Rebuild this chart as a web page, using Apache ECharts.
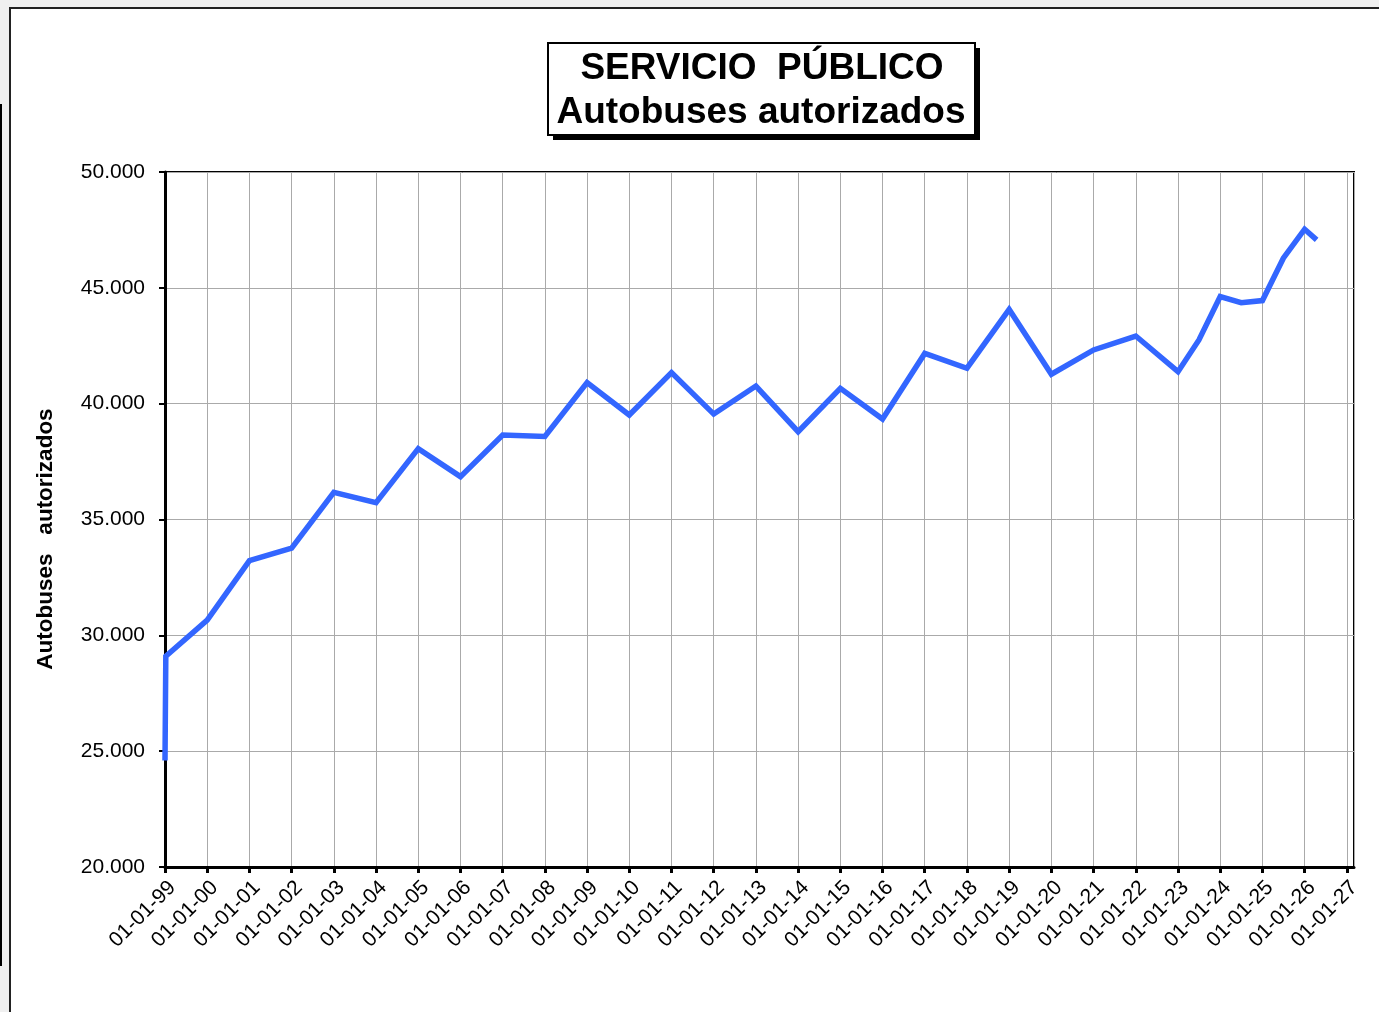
<!DOCTYPE html>
<html>
<head>
<meta charset="utf-8">
<title>Servicio público - Autobuses autorizados</title>
<script src="https://cdn.jsdelivr.net/npm/echarts@6/dist/echarts.min.js"></script>
<style>
  html, body { margin: 0; padding: 0; background: #f0f0f0; overflow: hidden; }
  #frame {
    position: absolute; left: 9px; top: 7px; width: 1400px; height: 1100px;
    border-left: 2px solid #222; border-top: 2px solid #222; background: #fff;
  }
  #mark { position: absolute; left: 0; top: 104px; width: 2px; height: 862px; background: #000; }
  #main { position: absolute; left: 0; top: 0; width: 1379px; height: 1012px; }
</style>
</head>
<body>
<div id="frame"></div>
<div id="mark"></div>
<div id="main"></div>
<script>
  // fechas de cada dato y número de autobuses autorizados
  var fechas = [
    '1999-01-01', '1999-01-08', '2000-01-01', '2001-01-01', '2002-01-01',
    '2003-01-01', '2004-01-01', '2005-01-01', '2006-01-01', '2007-01-01',
    '2008-01-01', '2009-01-01', '2010-01-01', '2011-01-01', '2012-01-01',
    '2013-01-01', '2014-01-01', '2015-01-01', '2016-01-01', '2017-01-01',
    '2018-01-01', '2019-01-01', '2020-01-01', '2021-01-01', '2022-01-01',
    '2023-01-01', '2023-07-01', '2024-01-01', '2024-07-01', '2025-01-01',
    '2025-07-01', '2026-01-01', '2026-04-15'
  ];
  var autobuses = [
    24600, 29100, 30660, 33220, 33760,
    36170, 35730, 38060, 36850, 38650,
    38580, 40910, 39510, 41340, 39550,
    40760, 38790, 40660, 39340, 42170,
    41530, 44070, 41270, 42320, 42920,
    41380, 42750, 44620, 44360, 44450,
    46280, 47530, 47070
  ];
  var ejeY = { min: 20000, max: 50000, paso: 5000 };
  var ejeX = { desde: 1999, hasta: 2027 };

  function anioDecimal(f) {
    var p = f.split('-').map(Number);
    var ini = Date.UTC(p[0], 0, 1), fin = Date.UTC(p[0] + 1, 0, 1);
    return p[0] + (Date.UTC(p[0], p[1] - 1, p[2]) - ini) / (fin - ini);
  }
  function miles(v) {
    return String(v).replace(/\B(?=(\d{3})+(?!\d))/g, '.');
  }

  var datos = fechas.map(function (f, i) { return [anioDecimal(f), autobuses[i]]; });

  var chart = echarts.init(document.getElementById('main'));
  var fuente = '"Liberation Sans", Arial, sans-serif';

  chart.setOption({
    backgroundColor: 'transparent',
    animation: false,
    grid: {
      left: 165, right: 25, top: 172, bottom: 145,
      show: true, borderColor: '#000', borderWidth: 2
    },
    graphic: [
      { type: 'rect', shape: { x: 553, y: 48, width: 427, height: 92 }, style: { fill: '#000' } },
      { type: 'rect', shape: { x: 548, y: 43, width: 427, height: 92 }, style: { fill: '#fff', stroke: '#000', lineWidth: 2 } },
      {
        type: 'text', x: 762, y: 69,
        style: { text: 'SERVICIO  PÚBLICO', font: 'bold 37px ' + fuente, fill: '#000', align: 'center', verticalAlign: 'middle' }
      },
      {
        type: 'text', x: 761, y: 113,
        style: { text: 'Autobuses autorizados', font: 'bold 37px ' + fuente, fill: '#000', align: 'center', verticalAlign: 'middle' }
      },
      {
        type: 'text', x: 46, y: 539, rotation: Math.PI / 2,
        style: { text: 'Autobuses   autorizados', font: 'bold 22.5px ' + fuente, fill: '#000', align: 'center', verticalAlign: 'middle' }
      }
    ],
    xAxis: {
      type: 'value',
      min: ejeX.desde,
      max: ejeX.hasta + 0.17,
      interval: 1,
      axisLine: { lineStyle: { color: '#000', width: 3 } },
      axisTick: { show: true, length: 6, lineStyle: { color: '#000', width: 3 } },
      splitLine: { show: true, lineStyle: { color: '#aaa', width: 1 } },
      axisLabel: {
        rotate: 45, margin: 10, color: '#000', fontSize: 21, fontFamily: fuente,
        verticalAlign: 'top',
        showMaxLabel: false,
        formatter: function (v) {
          if (Math.abs(v - Math.round(v)) > 1e-6) return '';
          var a = Math.round(v) % 100;
          return '01-01-' + (a < 10 ? '0' : '') + a;
        }
      }
    },
    yAxis: {
      type: 'value',
      min: ejeY.min,
      max: ejeY.max,
      interval: ejeY.paso,
      axisLine: { show: true, lineStyle: { color: '#000', width: 3 } },
      axisTick: { show: true, length: 6, lineStyle: { color: '#000', width: 2 } },
      splitLine: { show: true, lineStyle: { color: '#aaa', width: 1 } },
      axisLabel: { margin: 20, color: '#000', fontSize: 21, fontFamily: fuente, formatter: miles }
    },
    series: [{
      type: 'line',
      data: datos,
      showSymbol: false,
      lineStyle: { color: '#3366ff', width: 5.5, join: 'miter' },
      itemStyle: { color: '#3366ff' }
    }]
  });
</script>
</body>
</html>
